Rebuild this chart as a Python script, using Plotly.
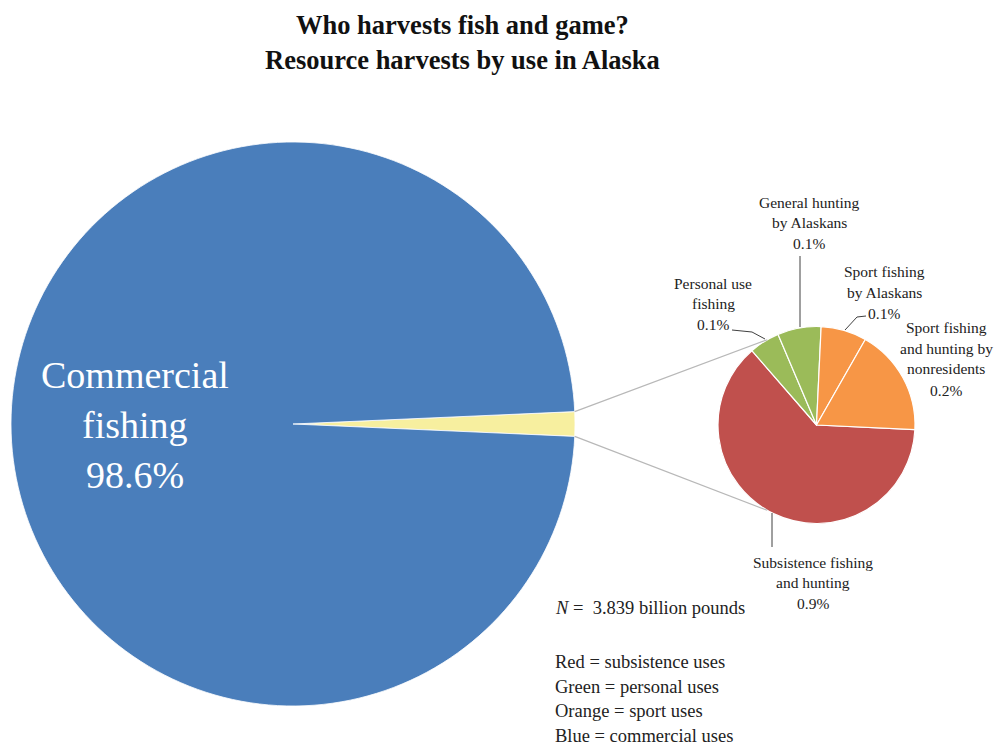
import math
import plotly.graph_objects as go

# ---------------- data ----------------
main_labels = ["Other uses", "Commercial fishing"]
main_values = [1.4, 98.6]
main_colors = ["#f7ef9f", "#4a7ebb"]

small_labels = [
    "Subsistence fishing and hunting",
    "Personal use fishing",
    "General hunting by Alaskans",
    "Sport fishing by Alaskans",
    "Sport fishing and hunting by nonresidents",
]
small_values = [0.88, 0.07, 0.10, 0.105, 0.245]
small_text = ["0.9%", "0.1%", "0.1%", "0.1%", "0.2%"]
small_colors = ["#c0504d", "#9bbb59", "#9bbb59", "#f79646", "#f79646"]

title_lines = ["Who harvests fish and game?", "Resource harvests by use in Alaska"]
note_lines = ["Red = subsistence uses", "Green = personal uses",
              "Orange = sport uses", "Blue = commercial uses"]

# ---------------- geometry ----------------
W, H = 1004, 747
MAIN_C, MAIN_R = (293.0, 424.0), 282.0
SMALL_C, SMALL_R = (816.5, 425.0), 98.5
FONT = "Liberation Serif"


def px(x):
    return x / W


def py(y):
    return 1 - y / H


def domain(c, r):
    return dict(x=[px(c[0] - r), px(c[0] + r)], y=[py(c[1] + r), py(c[1] - r)])


other_frac = main_values[0] / sum(main_values)
half_angle = other_frac * 180.0  # degrees
main_rotation = 90 - half_angle

fig = go.Figure()
fig.add_trace(go.Pie(
    labels=main_labels, values=main_values, sort=False, direction="clockwise",
    rotation=main_rotation, textinfo="none", hoverinfo="label+percent",
    marker=dict(colors=main_colors, line=dict(color="white", width=0.8)),
    domain=domain(MAIN_C, MAIN_R), showlegend=False,
))
fig.add_trace(go.Pie(
    labels=small_labels, values=small_values, sort=False, direction="clockwise",
    rotation=92.7, textinfo="none", hovertext=small_text, hoverinfo="label+text",
    marker=dict(colors=small_colors, line=dict(color="white", width=1.2)),
    domain=domain(SMALL_C, SMALL_R), showlegend=False,
))

shapes = []


def line(x0, y0, x1, y1, color, width=1):
    shapes.append(dict(type="line", xref="paper", yref="paper",
                       x0=px(x0), y0=py(y0), x1=px(x1), y1=py(y1),
                       line=dict(color=color, width=width)))


# connector lines between pies
a = math.radians(half_angle)
mx = MAIN_C[0] + MAIN_R * math.cos(a)
for sgn in (1, -1):
    my = MAIN_C[1] - sgn * MAIN_R * math.sin(a)
    b = math.radians(120)
    sx = SMALL_C[0] + SMALL_R * math.cos(b)
    sy = SMALL_C[1] - sgn * SMALL_R * math.sin(b)
    line(mx, my, sx, sy, "#b8b8b8", 1.2)

# leader lines for labels
lead = "#404040"
line(800, 256, 800, 327, lead)
line(732, 330, 752, 332, lead)
line(752, 332, 765, 339, lead)
line(866, 316, 857, 317, lead)
line(857, 317, 845, 330, lead)
line(772, 513, 772, 547, lead)

annotations = []


def text(t, x, y, size, color="#222222", bold=False, anchor="center"):
    if bold:
        t = "<b>" + t + "</b>"
    annotations.append(dict(text=t, x=px(x), y=py(y), xref="paper", yref="paper",
                            xanchor=anchor, yanchor="middle", showarrow=False,
                            font=dict(family=FONT, size=size, color=color)))


# title
text(title_lines[0], 462, 25, 26.5, "#111111", bold=True)
text(title_lines[1], 462, 60, 26.5, "#111111", bold=True)

# commercial label
for i, t in enumerate(["Commercial", "fishing", "98.6%"]):
    text(t, 135, 375 + i * 50, 38, "white")

# small pie labels
LS = 15.5
for i, t in enumerate(["General hunting", "by Alaskans", small_text[2]]):
    text(t, 809, 202 + i * 20.5, LS)
for i, t in enumerate(["Personal use", "fishing", small_text[1]]):
    text(t, 713, 283 + i * 20.5, LS)
for i, t in enumerate(["Sport fishing", "by Alaskans", small_text[3]]):
    text(t, 884, 271 + i * 21, LS)
for i, t in enumerate(["Sport fishing", "and hunting by", "nonresidents", small_text[4]]):
    text(t, 946, 327 + i * 21, LS)
for i, t in enumerate(["Subsistence fishing", "and hunting", small_text[0]]):
    text(t, 813, 562 + i * 20.5, LS)

# notes
text("<i>N</i> =  3.839 billion pounds", 553, 608, 18.5, anchor="left")
for i, t in enumerate(note_lines):
    text(t, 553, 662 + i * 24.7, 18.5, anchor="left")

fig.update_layout(
    width=W, height=H, margin=dict(l=0, r=0, t=0, b=0),
    paper_bgcolor="white", plot_bgcolor="white",
    shapes=shapes, annotations=annotations,
)
fig.write_html("out.html", config={"displayModeBar": False},
               post_script="document.body.style.margin='0';document.body.style.overflow='hidden';")
